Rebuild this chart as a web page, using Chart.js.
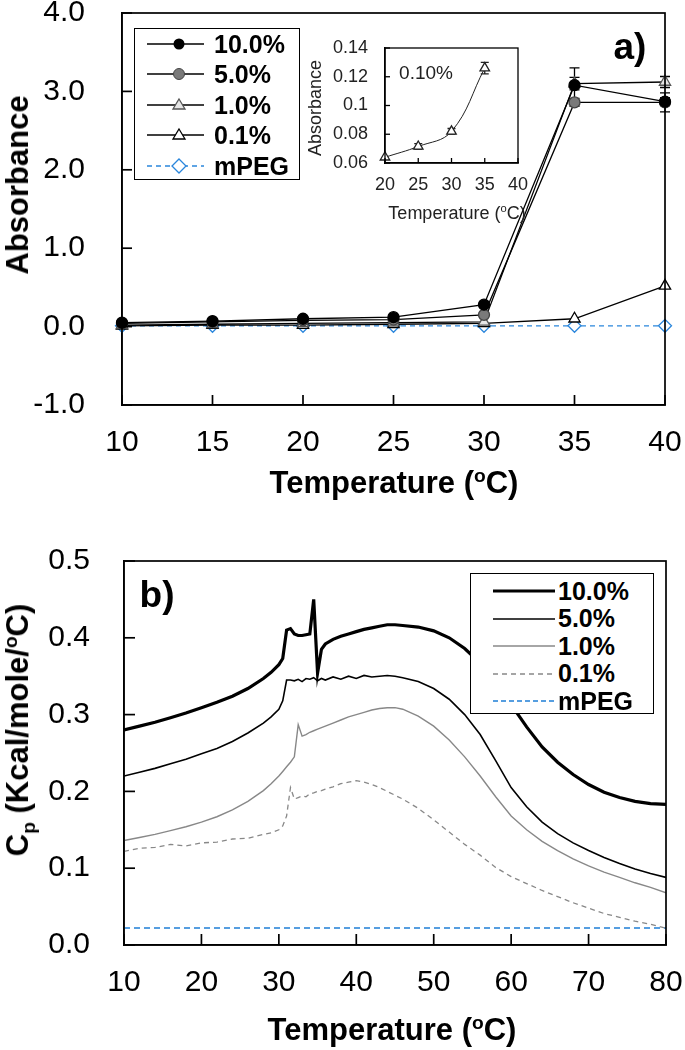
<!DOCTYPE html>
<html>
<head>
<meta charset="utf-8">
<script src="https://cdn.jsdelivr.net/npm/chart.js@4.4.1/dist/chart.umd.min.js"></script>
<style>
	body { margin: 0; background: #fff; }
	#wrap { position: relative; width: 685px; height: 1050px; font-family: "Liberation Sans", Arial, sans-serif; color: #000; overflow: hidden; }
	canvas { position: absolute; }
	.txt { position: absolute; white-space: nowrap; transform: translate(-50%, -50%); }
	.rot { transform: translate(-50%, -50%) rotate(-90deg); }
	.title { font-weight: bold; font-size: 31px; }
	sup, sub { font-size: 0.62em; line-height: 0; }
	.legend { position: absolute; background: #fff; border: 1.5px solid #000; box-sizing: border-box; }
	.legend .row { position: absolute; left: 0; height: 24px; transform: translateY(-50%); display: flex; align-items: center; }
	.legend svg { display: block; }
	.legend span { font-weight: bold; font-size: 25px; }
</style>
</head>
<body>
<div id="wrap">
	<canvas id="chartA" width="685" height="520" style="left:0;top:0"></canvas>
	<canvas id="chartInset" width="240" height="210" style="left:300px;top:20px"></canvas>
	<canvas id="chartB" width="685" height="530" style="left:0;top:520px"></canvas>

	<!-- panel a texts -->
	<div class="txt rot title" style="left:18px;top:185px">Absorbance</div>
	<div class="txt title" style="left:394px;top:483px">Temperature (<sup>o</sup>C)</div>
	<div class="txt" style="left:630px;top:47px;font-weight:bold;font-size:37px">a)</div>
	<div class="txt rot" style="left:315px;top:108px;font-size:18px;color:#222">Absorbance</div>
	<div class="txt" style="left:457px;top:213px;font-size:18px;color:#222">Temperature (<sup>o</sup>C)</div>
	<div class="txt" style="left:426px;top:73px;font-size:19px;color:#222">0.10%</div>

	<div class="legend" style="left:134px;top:28px;width:166px;height:152px">
		<div class="row" style="top:15px"><svg width="79" height="20"><line x1="12" y1="10" x2="69" y2="10" stroke="#000" stroke-width="1.5"/><circle cx="44" cy="10" r="5.5" fill="#000"/></svg><span>10.0%</span></div>
		<div class="row" style="top:45px"><svg width="79" height="20"><line x1="12" y1="10" x2="69" y2="10" stroke="#000" stroke-width="1.5"/><circle cx="44" cy="10" r="5.5" fill="#7a7a7a" stroke="#444" stroke-width="1"/></svg><span>5.0%</span></div>
		<div class="row" style="top:76px"><svg width="79" height="20"><line x1="12" y1="10" x2="69" y2="10" stroke="#000" stroke-width="1.5"/><polygon points="44,4 50,14 38,14" fill="#e6e6e6" stroke="#555" stroke-width="1.3"/></svg><span>1.0%</span></div>
		<div class="row" style="top:106px"><svg width="79" height="20"><line x1="12" y1="10" x2="69" y2="10" stroke="#000" stroke-width="1.5"/><polygon points="44,4 50,14 38,14" fill="#fff" stroke="#000" stroke-width="1.3"/></svg><span>0.1%</span></div>
		<div class="row" style="top:137px"><svg width="79" height="20"><line x1="12" y1="10" x2="69" y2="10" stroke="#2a86dc" stroke-width="1.3" stroke-dasharray="5,4"/><polygon points="44,3 51,10 44,17 37,10" fill="#fff" stroke="#2a86dc" stroke-width="1.3"/></svg><span>mPEG</span></div>
	</div>

	<!-- panel b texts -->
	<div class="txt rot title" style="left:18px;top:730px">C<sub>p</sub> (Kcal/mole/<sup>o</sup>C)</div>
	<div class="txt title" style="left:392px;top:1030px">Temperature (<sup>o</sup>C)</div>
	<div class="txt" style="left:157px;top:595px;font-weight:bold;font-size:37px">b)</div>

	<div class="legend" style="left:470px;top:573px;width:184px;height:141px">
		<div class="row" style="top:17px"><svg width="87" height="20"><line x1="22" y1="10" x2="84" y2="10" stroke="#000" stroke-width="3.2"/></svg><span>10.0%</span></div>
		<div class="row" style="top:44.5px"><svg width="87" height="20"><line x1="22" y1="10" x2="84" y2="10" stroke="#000" stroke-width="1.6"/></svg><span>5.0%</span></div>
		<div class="row" style="top:72px"><svg width="87" height="20"><line x1="22" y1="10" x2="84" y2="10" stroke="#888" stroke-width="1.4"/></svg><span>1.0%</span></div>
		<div class="row" style="top:99.5px"><svg width="87" height="20"><line x1="22" y1="10" x2="84" y2="10" stroke="#888" stroke-width="1.3" stroke-dasharray="5,4"/></svg><span>0.1%</span></div>
		<div class="row" style="top:127px"><svg width="87" height="20"><line x1="22" y1="10" x2="84" y2="10" stroke="#1f7fd6" stroke-width="1.5" stroke-dasharray="5,3"/></svg><span>mPEG</span></div>
	</div>
</div>

<script>
// panel a: turbidity
const tempA = [10, 15, 20, 25, 30, 35, 40];
const abs10 = [0.05, 0.07, 0.10, 0.12, 0.28, 3.08, 2.87];
const abs5 = [0.04, 0.06, 0.08, 0.09, 0.15, 2.86, 2.86];
const abs1 = [0.02, 0.03, 0.04, 0.05, 0.06, 3.10, 3.12];
const abs01 = [0.01, 0.02, 0.02, 0.03, 0.04, 0.10, 0.52];
const absPeg = [0.01, 0.01, 0.01, 0.01, 0.01, 0.01, 0.01];
const err10 = [0, 0, 0, 0, 0, 0.22, 0.05];
const err5 = [0, 0, 0, 0, 0, 0.05, 0.12];
const err1 = [0, 0, 0, 0, 0, 0.08, 0.07];
const ticksAx = [10, 15, 20, 25, 30, 35, 40];
const ticksAy = [-1, 0, 1, 2, 3, 4];

// inset: 0.10 %
const tempInset = [20, 25, 30, 35];
const absInset = [0.064, 0.0715, 0.082, 0.126];
const errInset = [0, 0.002, 0.002, 0.004];
const ticksIx = [20, 25, 30, 35, 40];
const ticksIy = [0.06, 0.08, 0.1, 0.12, 0.14];

// panel b: DSC
const tempB = [10, 12, 14, 16, 18, 20, 22, 24, 26, 28, 29, 30, 30.5, 31, 31.5, 32, 32.5, 33, 33.5, 34, 34.5, 35, 35.5, 36,
	37, 38, 39, 40, 41, 42, 43, 44, 45, 46, 48, 50, 52, 54, 56, 58, 60, 62, 64, 66, 68, 70, 72, 74, 76, 78, 80];
const cp10 = [0.280, 0.285, 0.290, 0.296, 0.302, 0.309, 0.316, 0.324, 0.334, 0.347, 0.355, 0.365, 0.373, 0.410, 0.412,
	0.405, 0.403, 0.403, 0.404, 0.405, 0.450, 0.354, 0.385, 0.392, 0.398, 0.402, 0.405, 0.408, 0.411, 0.413, 0.415,
	0.417, 0.417, 0.416, 0.414, 0.409, 0.400, 0.386, 0.367, 0.343, 0.313, 0.284, 0.258, 0.238, 0.222, 0.209, 0.199,
	0.192, 0.187, 0.184, 0.183];
const cp5 = [0.220, 0.225, 0.230, 0.236, 0.242, 0.249, 0.256, 0.265, 0.276, 0.289, 0.297, 0.307, 0.318, 0.345, 0.345,
	0.344, 0.346, 0.343, 0.347, 0.346, 0.348, 0.344, 0.347, 0.345, 0.349, 0.346, 0.350, 0.347, 0.351, 0.349, 0.350,
	0.351, 0.350, 0.348, 0.343, 0.334, 0.320, 0.300, 0.274, 0.240, 0.205, 0.180, 0.160, 0.145, 0.133, 0.123, 0.114,
	0.106, 0.099, 0.093, 0.088];
const cp1 = [0.136, 0.140, 0.144, 0.149, 0.154, 0.160, 0.167, 0.176, 0.187, 0.201, 0.210, 0.220, 0.226, 0.232, 0.238,
	0.245, 0.287, 0.272, 0.274, 0.277, 0.279, 0.281, 0.283, 0.285, 0.289, 0.293, 0.297, 0.300, 0.303, 0.306, 0.308,
	0.309, 0.309, 0.307, 0.298, 0.285, 0.267, 0.245, 0.220, 0.193, 0.168, 0.150, 0.135, 0.123, 0.112, 0.103, 0.095,
	0.088, 0.081, 0.075, 0.068];
const cp01 = [0.122, 0.126, 0.127, 0.131, 0.129, 0.133, 0.134, 0.138, 0.139, 0.144, 0.146, 0.150, 0.155, 0.168, 0.205,
	0.190, 0.192, 0.194, 0.193, 0.197, 0.198, 0.200, 0.201, 0.203, 0.206, 0.210, 0.212, 0.214, 0.212, 0.209, 0.205,
	0.200, 0.195, 0.190, 0.178, 0.163, 0.147, 0.131, 0.117, 0.101, 0.089, 0.080, 0.071, 0.063, 0.055, 0.048, 0.041,
	0.036, 0.031, 0.027, 0.022];
const tempPeg = [10, 80];
const cpPeg = [0.022, 0.022];
const ticksBx = [10, 20, 30, 40, 50, 60, 70, 80];
const ticksBy = [0, 0.1, 0.2, 0.3, 0.4, 0.5];

Chart.defaults.font.family = '"Liberation Sans", Arial, sans-serif';
Chart.defaults.color = '#000';

const pts = (xs, ys) => xs.map((x, i) => ({ x: x, y: ys[i] }));

// box around plot area + inward tick marks
function framePlugin(tx, ty, tl, lw) {
	return {
		id: 'frame',
		afterDraw(chart) {
			const ctx = chart.ctx;
			const a = chart.chartArea;
			const xs = chart.scales.x;
			const ys = chart.scales.y;
			ctx.save();
			ctx.strokeStyle = '#000';
			ctx.lineWidth = lw;
			ctx.strokeRect(a.left, a.top, a.right - a.left, a.bottom - a.top);
			tx.forEach(v => {
				const px = xs.getPixelForValue(v);
				ctx.beginPath();
				ctx.moveTo(px, a.bottom);
				ctx.lineTo(px, a.bottom - tl);
				ctx.stroke();
			});
			ty.forEach(v => {
				const py = ys.getPixelForValue(v);
				ctx.beginPath();
				ctx.moveTo(a.left, py);
				ctx.lineTo(a.left + tl, py);
				ctx.stroke();
			});
			ctx.restore();
		},
	};
}

// error bars from dataset.errors
const errorBars = {
	id: 'errorBars',
	beforeDatasetsDraw(chart) {
		const ctx = chart.ctx;
		const ys = chart.scales.y;
		chart.data.datasets.forEach((ds, i) => {
			if (!ds.errors) return;
			const meta = chart.getDatasetMeta(i);
			ctx.save();
			ctx.strokeStyle = ds.borderColor;
			ctx.lineWidth = 1.3;
			meta.data.forEach((p, j) => {
				const e = ds.errors[j];
				if (!e) return;
				const v = ds.data[j].y;
				const t = ys.getPixelForValue(v + e);
				const b = ys.getPixelForValue(v - e);
				const w = ds.capWidth || 5;
				ctx.beginPath();
				ctx.moveTo(p.x, t); ctx.lineTo(p.x, b);
				ctx.moveTo(p.x - w, t); ctx.lineTo(p.x + w, t);
				ctx.moveTo(p.x - w, b); ctx.lineTo(p.x + w, b);
				ctx.stroke();
			});
			ctx.restore();
		});
	},
};

function xAxis(min, max, step, height, pad, size, color) {
	return {
		type: 'linear', position: 'bottom', min: min, max: max,
		ticks: { stepSize: step, autoSkip: false, maxRotation: 0, padding: pad, color: color, font: { size: size } },
		grid: { drawOnChartArea: false, drawTicks: false },
		border: { color: '#000', width: 1.5 },
		afterFit(s) { s.height = height; s.paddingLeft = 0; s.paddingRight = 0; },
	};
}
function yAxis(min, max, step, width, pad, size, color, fmt) {
	return {
		type: 'linear', position: 'left', min: min, max: max,
		ticks: { stepSize: step, autoSkip: false, padding: pad, color: color, font: { size: size }, callback: fmt },
		grid: { drawOnChartArea: false, drawTicks: false },
		border: { color: '#000', width: 1.5 },
		afterFit(s) { s.width = width; s.paddingTop = 0; s.paddingBottom = 0; },
	};
}

const baseOpts = {
	responsive: false,
	animation: false,
	devicePixelRatio: 1,
	plugins: { legend: { display: false }, tooltip: { enabled: false } },
};

// ---- panel a ----
new Chart(document.getElementById('chartA'), {
	type: 'line',
	data: {
		datasets: [
			{ label: '10.0%', data: pts(tempA, abs10), errors: err10, borderColor: '#000', borderWidth: 1.3,
				pointStyle: 'circle', pointRadius: 5.5, pointBackgroundColor: '#000', pointBorderColor: '#000', clip: false },
			{ label: '5.0%', data: pts(tempA, abs5), errors: err5, borderColor: '#000', borderWidth: 1.3,
				pointStyle: 'circle', pointRadius: 5.5, pointBackgroundColor: '#7a7a7a', pointBorderColor: '#444', clip: false },
			{ label: '1.0%', data: pts(tempA, abs1), errors: err1, borderColor: '#000', borderWidth: 1.3,
				pointStyle: 'triangle', pointRadius: 6.5, pointBackgroundColor: '#e6e6e6', pointBorderColor: '#555', pointBorderWidth: 1.3, clip: false },
			{ label: '0.1%', data: pts(tempA, abs01), borderColor: '#000', borderWidth: 1.3,
				pointStyle: 'triangle', pointRadius: 6.5, pointBackgroundColor: '#fff', pointBorderColor: '#000', pointBorderWidth: 1.3, clip: false },
			{ label: 'mPEG', data: pts(tempA, absPeg), borderColor: '#2a86dc', borderWidth: 1.3, borderDash: [5, 4],
				pointStyle: 'rectRot', pointRadius: 6.5, pointBackgroundColor: '#fff', pointBorderColor: '#2a86dc', pointBorderWidth: 1.3, clip: false },
		],
	},
	options: Object.assign({}, baseOpts, {
		layout: { padding: { left: 0, right: 20, top: 13, bottom: 0 } },
		scales: {
			x: xAxis(10, 40, 5, 115, 20, 30, '#000'),
			y: yAxis(-1, 4, 1, 122, 37, 30, '#000', v => v.toFixed(1)),
		},
	}),
	plugins: [framePlugin(ticksAx, ticksAy, 10, 1.7), errorBars],
});

// ---- inset ----
new Chart(document.getElementById('chartInset'), {
	type: 'line',
	data: {
		datasets: [
			{ label: '0.10%', data: pts(tempInset, absInset), errors: errInset, capWidth: 4, borderColor: '#222', borderWidth: 1,
				tension: 0.4, pointStyle: 'triangle', pointRadius: 5.5,
				pointBackgroundColor: '#fff', pointBorderColor: '#222', pointBorderWidth: 1.3, clip: false },
		],
	},
	options: Object.assign({}, baseOpts, {
		layout: { padding: { left: 0, right: 22, top: 28, bottom: 0 } },
		scales: {
			x: xAxis(20, 40, 5, 67, 11, 18, '#222'),
			y: yAxis(0.06, 0.14, 0.02, 85, 17, 18, '#222', v => String(+v.toFixed(2))),
		},
	}),
	plugins: [framePlugin(ticksIx, ticksIy, 5, 1.3), errorBars],
});

// ---- panel b ----
new Chart(document.getElementById('chartB'), {
	type: 'line',
	data: {
		datasets: [
			{ label: '10.0%', data: pts(tempB, cp10), borderColor: '#000', borderWidth: 3.2, pointRadius: 0 },
			{ label: '5.0%', data: pts(tempB, cp5), borderColor: '#000', borderWidth: 1.6, pointRadius: 0 },
			{ label: '1.0%', data: pts(tempB, cp1), borderColor: '#888', borderWidth: 1.4, pointRadius: 0 },
			{ label: '0.1%', data: pts(tempB, cp01), borderColor: '#888', borderWidth: 1.3, borderDash: [5, 4], pointRadius: 0 },
			{ label: 'mPEG', data: pts(tempPeg, cpPeg), borderColor: '#1f7fd6', borderWidth: 1.5, borderDash: [6, 4], pointRadius: 0 },
		],
	},
	options: Object.assign({}, baseOpts, {
		layout: { padding: { left: 0, right: 19, top: 41, bottom: 0 } },
		scales: {
			x: xAxis(10, 80, 10, 105, 20, 30, '#000'),
			y: yAxis(0, 0.5, 0.1, 124, 34, 30, '#000', v => v.toFixed(1)),
		},
	}),
	plugins: [framePlugin(ticksBx, ticksBy, 11, 1.7)],
});
</script>
</body>
</html>
